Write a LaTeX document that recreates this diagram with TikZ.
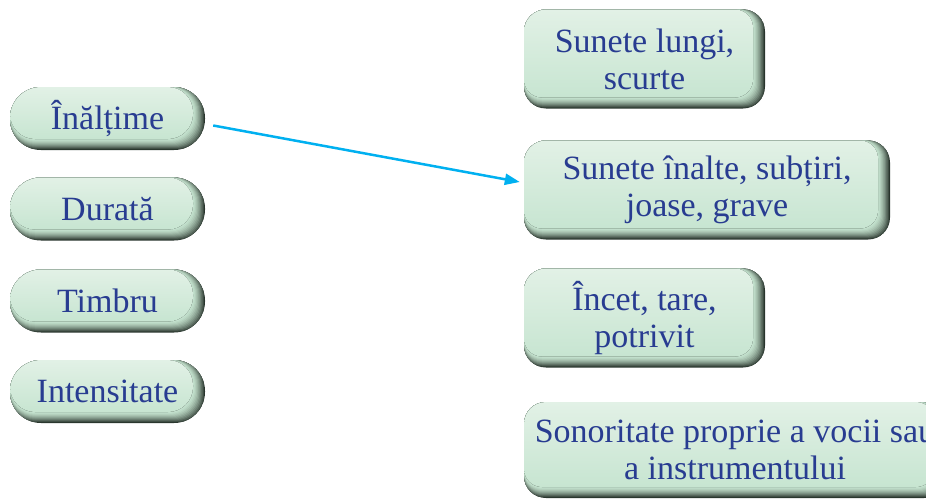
\documentclass[tikz,border=0pt]{standalone}
\usepackage{fontspec}
\setmainfont{Liberation Serif}
\usetikzlibrary{arrows.meta}
\definecolor{txt}{RGB}{40,60,145}
\definecolor{arr}{RGB}{0,176,240}
\definecolor{shd}{RGB}{40,52,44}
\definecolor{faceT}{RGB}{226,241,230}
\definecolor{faceB}{RGB}{199,229,209}
\begin{document}
\begin{tikzpicture}[x=1pt,y=1pt,
  bevel/.style 2 args={fill=shd, rounded corners=#1, text=txt, align=center,
    font=\fontsize{34}{37}\selectfont, inner sep=0pt,
    path picture={
      \foreach \k in {1,...,10}{
        \pgfmathsetmacro\mix{100*(1-(1-\k/11)^1.6)}
        \fill[faceB!\mix!shd, rounded corners=#2] (path picture bounding box.north west)
          rectangle ([shift={(-1.1*\k pt,1.0*\k pt)}]path picture bounding box.south east);
      }
      \fill[top color=faceT, bottom color=faceB, rounded corners=#2]
        (path picture bounding box.north west)
        rectangle ([shift={(-12pt,11pt)}]path picture bounding box.south east);
    }},
  pill/.style={bevel={31pt}{25pt}, minimum width=195pt, minimum height=63pt},
  card/.style={bevel={22pt}{18pt}, minimum height=99pt},
  link/.style={arr, line width=2.5pt, -{Triangle[length=15pt,width=11pt]}}
]
\useasboundingbox (0,0) rectangle (926,-498);

\node[pill] (inal) at (107.5,-118.5) {Înălțime};
\node[pill] (dur)  at (107.5,-209)   {Durată};
\node[pill] (timb) at (107.5,-301)   {Timbru};
\node[pill] (intens) at (107.5,-391.5) {Intensitate};

\node[card, minimum width=241pt] (b1) at (644.5,-59)  {Sunete lungi,\\scurte};
\node[card, minimum width=366pt] (b2) at (707,-190)   {Sunete înalte, subțiri,\\joase, grave};
\node[card, minimum width=241pt] (b3) at (644.5,-318) {Încet, tare,\\potrivit};
\node[card, minimum width=422pt, minimum height=96pt] (b4) at (735,-450) {Sonoritate proprie a vocii sau\\a instrumentului};

\draw[link] ([shift={(8pt,-7pt)}]inal.east) -- ([shift={(-4pt,8pt)}]b2.west);
\end{tikzpicture}
\end{document}
